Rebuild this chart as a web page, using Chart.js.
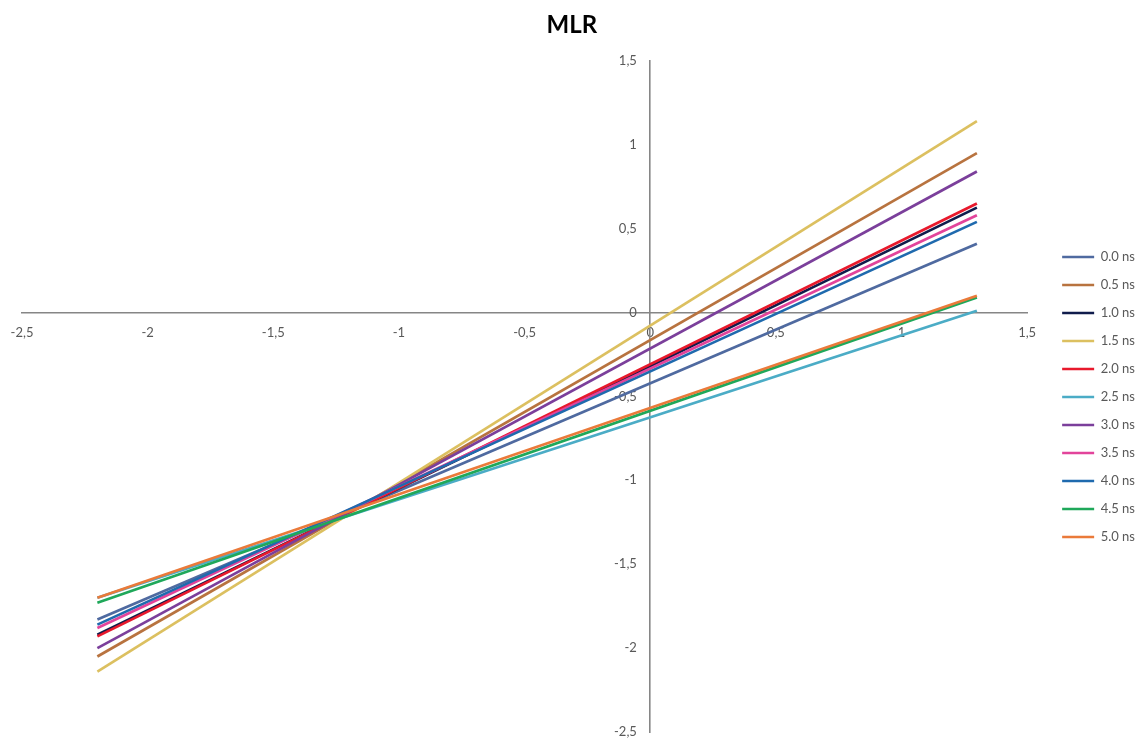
<!DOCTYPE html>
<html>
<head>
<meta charset="utf-8">
<script src="https://cdn.jsdelivr.net/npm/chart.js@4.4.1/dist/chart.umd.min.js"></script>
<style>
  html, body { margin: 0; padding: 0; background: #fff; }
  #wrap { width: 1138px; height: 738px; }
</style>
</head>
<body>
<div id="wrap"><canvas id="mlr"></canvas></div>
<script>
// data: each series is a straight line from x=-2.2 to x=1.3
const seriesNames = ['0.0 ns', '0.5 ns', '1.0 ns', '1.5 ns', '2.0 ns', '2.5 ns',
                     '3.0 ns', '3.5 ns', '4.0 ns', '4.5 ns', '5.0 ns'];
const xValues = [-2.2, 1.3];
const yStart = [-1.83, -2.05, -1.92, -2.14, -1.93, -1.70, -2.00, -1.88, -1.86, -1.73, -1.70];
const yEnd   = [ 0.41,  0.95,  0.625, 1.14,  0.65,  0.01,  0.84,  0.58,  0.54,  0.09,  0.10];
const xTicks = [-2.5, -2, -1.5, -1, -0.5, 0, 0.5, 1, 1.5];
const yTicks = [-2.5, -2, -1.5, -1, -0.5, 0, 0.5, 1, 1.5];

const lineColors = ['#4f6aa0', '#b8733f', '#101c4c', '#dcc060', '#e8192c', '#4bacc6',
                    '#7b3f9b', '#e2449b', '#1f6aae', '#1fa85a', '#ea7a3a'];

Chart.defaults.font.family = 'Lato, "Open Sans", sans-serif';
Chart.defaults.color = '#595959';

const commaFmt = v => String(v).replace('.', ',');

// extra room between the plot and the legend (legend has no option for it)
const legendShift = 20;
const legendGap = {
  id: 'legendGap',
  beforeUpdate(chart) {
    const lg = chart.legend;
    if (!lg || lg._gapWrapped) return;
    lg._gapWrapped = true;
    const fit = lg.fit;
    lg.fit = function () { fit.call(this); this.width += legendShift; };
    const draw = lg.draw;
    lg.draw = function () {
      this.ctx.save();
      this.ctx.translate(legendShift, 0);
      draw.call(this);
      this.ctx.restore();
    };
  }
};

// centred axes: don't let end labels eat into the plot area
const noEdgePad = s => { s.paddingLeft = 0; s.paddingRight = 0; s.paddingTop = 0; s.paddingBottom = 0; };

const datasets = seriesNames.map((name, i) => ({
  label: name,
  data: xValues.map((x, k) => ({ x: x, y: k === 0 ? yStart[i] : yEnd[i] })),
  borderColor: lineColors[i],
  backgroundColor: lineColors[i],
  borderWidth: 2.7,
  pointRadius: 0,
  showLine: true,
  order: seriesNames.length - i   // later series drawn on top, like the original
}));

new Chart(document.getElementById('mlr'), {
  type: 'scatter',
  data: { datasets: datasets },
  plugins: [legendGap],
  options: {
    responsive: true,
    maintainAspectRatio: false,
    animation: false,
    layout: { padding: { left: 22, right: -7, top: 0, bottom: 6 } },
    plugins: {
      title: {
        display: true,
        text: 'MLR    ',
        color: '#000',
        font: { size: 24, weight: 'bold' },
        padding: { top: 11, bottom: 21 }
      },
      legend: {
        position: 'right',
        // empty title only to push the items down to where the original has them
        title: { display: true, text: '', font: { size: 10 }, padding: { top: 50, bottom: 0 } },
        labels: {
          usePointStyle: true,
          pointStyle: 'line',
          pointStyleWidth: 32,
          boxHeight: 11,
          padding: 15,
          font: { size: 13 },
          color: '#595959',
          sort: (a, b) => a.datasetIndex - b.datasetIndex
        }
      },
      tooltip: { enabled: false }
    },
    scales: {
      x: {
        type: 'linear',
        position: { y: 0 },
        min: -2.5,
        max: 1.5,
        afterBuildTicks: s => { s.ticks = xTicks.map(v => ({ value: v })); },
        afterFit: noEdgePad,
        grid: { display: false, drawTicks: false },
        border: { display: true, color: '#868686', width: 1.6 },
        ticks: { callback: commaFmt, padding: 13, maxRotation: 0, font: { size: 13 } }
      },
      y: {
        type: 'linear',
        position: { x: 0 },
        min: -2.5,
        max: 1.5,
        afterBuildTicks: s => { s.ticks = yTicks.map(v => ({ value: v })); },
        afterFit: noEdgePad,
        grid: { display: false, drawTicks: false },
        border: { display: true, color: '#868686', width: 1.6 },
        // labels of a centred axis sit flush on the line, so pad them with spaces
        ticks: { callback: v => commaFmt(v) + '    ', font: { size: 13 } }
      }
    }
  }
});
</script>
</body>
</html>
